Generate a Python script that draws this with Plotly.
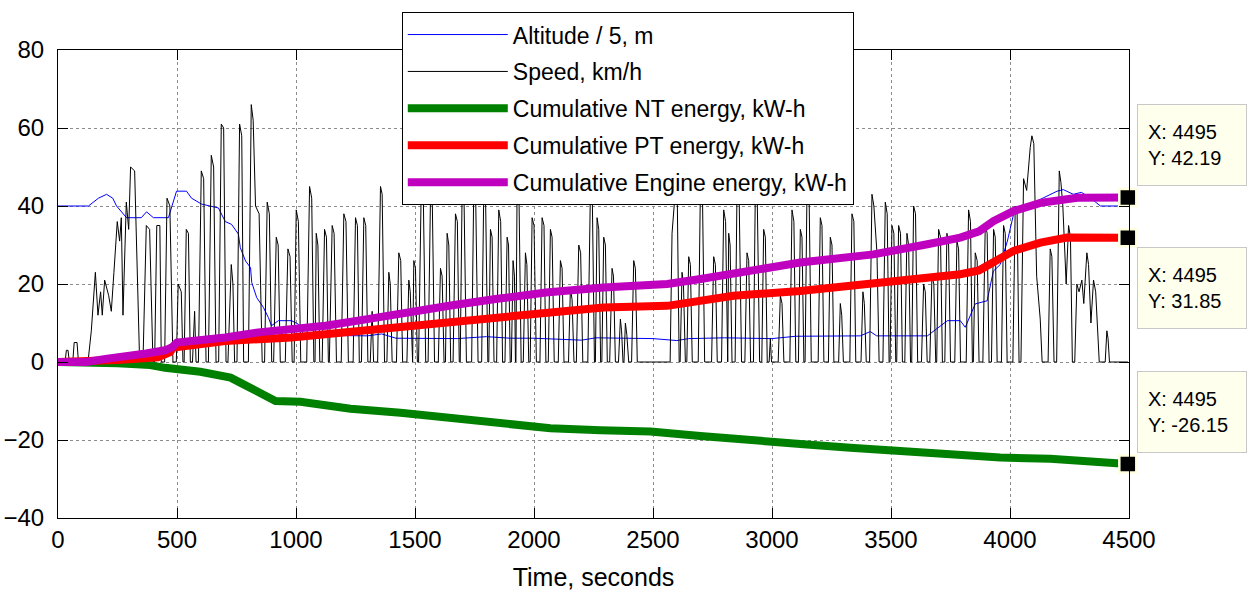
import plotly.graph_objects as go

# ---------------- data ----------------
alt_t = [0, 128, 170, 204, 230, 246, 288, 350, 372, 401, 464, 480, 498, 540, 561, 603, 674, 703, 729, 758,
         766, 788, 809, 814, 835, 863, 884, 897, 926, 981, 1010, 1030, 1150, 1300, 1360, 1420, 1536, 1678,
         1800, 1900, 2000, 2200, 2260, 2350, 2500, 2600, 2650, 2800, 3000, 3100, 3200, 3371, 3413, 3440,
         3653, 3737, 3791, 3812, 3854, 3904, 3930, 3959, 3989, 4015, 4043, 4114, 4198, 4224, 4266, 4300,
         4337, 4380, 4495]
alt_v = [40, 40, 42, 43, 42, 40, 37, 37, 38.5, 37, 37, 40, 43.8, 43.8, 42, 40.5, 39.5, 36, 35.3, 32.8,
         29.3, 25.9, 24.2, 20.4, 16.5, 14, 11.4, 9.3, 10.6, 10.6, 9.7, 7.2, 6.8, 6.7, 7.2, 6.1, 6.1, 6,
         6.5, 6.1, 6.1, 5.6, 6.2, 6.1, 6, 5.5, 6, 6.2, 6, 6.6, 6.6, 6.7, 7.8, 6.7,
         6.7, 10.6, 10.6, 8.9, 14.9, 15.7, 23.3, 25, 31, 37.9, 39.2, 41.3, 43.8, 44.2, 43, 43.5,
         42.1, 40, 40]

speed_t = [0, 30, 35, 42, 48, 62, 68, 80, 86, 126, 140, 157, 168, 179, 186, 196, 213, 224, 235, 249, 259,
           266, 273, 287, 297, 305, 322, 343, 357, 371, 385, 399, 406, 415, 428, 434, 448, 458, 470, 483,
           497, 505, 518, 525, 530, 539, 548, 556, 565, 574, 580, 590, 602, 612, 622, 632, 644, 654, 664,
           675, 686, 696, 706, 714, 728, 735, 742, 752, 763, 772, 780, 800, 812, 820, 830, 845, 858, 868,
           879, 888, 898, 906, 917, 925, 934, 955, 966, 975, 984, 992, 1001, 1010, 1020, 1045, 1057, 1066,
           1075, 1080, 1085, 1092, 1100, 1110, 1120, 1128, 1136, 1140, 1152, 1160, 1170, 1190, 1201, 1210,
           1220, 1240, 1250, 1258, 1266, 1275, 1285, 1293, 1302, 1312, 1320, 1326, 1343, 1355, 1362, 1372,
           1382, 1390, 1396, 1404, 1422, 1432, 1440, 1448, 1466, 1474, 1480, 1487, 1490, 1495, 1502, 1510,
           1515, 1526, 1535, 1545, 1555, 1565, 1573, 1582, 1598, 1607, 1614, 1622, 1628, 1635, 1642, 1650,
           1660, 1670, 1678, 1686, 1690, 1698, 1706, 1716, 1738, 1747, 1755, 1765, 1780, 1789, 1797, 1806,
           1810, 1817, 1824, 1832, 1843, 1852, 1860, 1868, 1878, 1887, 1893, 1900, 1905, 1912, 1918, 1922,
           1924, 1929, 1937, 1946, 1955, 1964, 1970, 1978, 1984, 1992, 2000, 2010, 2025, 2034, 2042, 2050,
           2060, 2069, 2076, 2085, 2102, 2111, 2118, 2126, 2145, 2153, 2160, 2168, 2178, 2188, 2196, 2205,
           2226, 2237, 2245, 2254, 2258, 2265, 2272, 2280, 2285, 2293, 2300, 2308, 2318, 2328, 2334, 2342,
           2355, 2363, 2368, 2374, 2378, 2384, 2390, 2398, 2410, 2419, 2426, 2434, 2572, 2580, 2594, 2602,
           2610, 2614, 2622, 2628, 2636, 2642, 2650, 2657, 2665, 2690, 2699, 2708, 2717, 2746, 2755, 2762,
           2770, 2788, 2797, 2805, 2812, 2814, 2818, 2824, 2832, 2845, 2853, 2862, 2872, 2886, 2895, 2902,
           2910, 2922, 2930, 2938, 2948, 2957, 2965, 2972, 2980, 2988, 2993, 2998, 3026, 3035, 3042, 3050,
           3075, 3084, 3092, 3100, 3111, 3119, 3126, 3134, 3139, 3147, 3156, 3165, 3194, 3203, 3210, 3218,
           3237, 3245, 3252, 3260, 3280, 3287, 3293, 3300, 3327, 3336, 3344, 3352, 3374, 3382, 3388, 3396,
           3410, 3420, 3428, 3441, 3450, 3466, 3476, 3484, 3492, 3496, 3504, 3512, 3520, 3524, 3532, 3540,
           3548, 3558, 3567, 3574, 3582, 3587, 3595, 3603, 3612, 3628, 3637, 3644, 3652, 3663, 3672, 3680,
           3688, 3692, 3700, 3708, 3716, 3726, 3735, 3742, 3750, 3768, 3777, 3784, 3792, 3816, 3826, 3834,
           3842, 3846, 3854, 3862, 3870, 3886, 3896, 3904, 3912, 3922, 3931, 3938, 3946, 3964, 3973, 3980,
           3988, 4012, 4022, 4030, 4038, 4046, 4057, 4070, 4085, 4092, 4100, 4112, 4127, 4135, 4160, 4169,
           4176, 4185, 4196, 4207, 4214, 4222, 4236, 4246, 4254, 4262, 4272, 4281, 4290, 4302, 4310, 4323,
           4330, 4340, 4351, 4360, 4375, 4400, 4407, 4412, 4418, 4495]
speed_v = [0, 0, 3, 3, 0, 0, 5, 5, 0, 0, 8, 23, 12, 18, 12, 21, 17, 13, 23, 36, 31,
           37, 12, 41, 34, 50, 49, 0, 0, 35, 34, 0, 0, 35, 35, 0, 0, 42, 40, 0,
           0, 20, 18, 0, 0, 34, 33, 0, 0, 13, 0, 0, 49, 47, 0, 0, 53, 50, 0,
           0, 61, 60, 0, 0, 25, 20, 0, 0, 61, 58, 0, 0, 66, 62, 40, 38, 0, 0,
           41, 38, 0, 0, 32, 30, 0, 0, 29, 27, 0, 0, 39, 36, 0, 0, 45, 42,
           0, 0, 33, 30, 0, 0, 34, 32, 0, 0, 35, 33, 0, 0, 38, 36,
           0, 0, 37, 35, 0, 0, 37, 35, 0, 0, 13, 0, 0, 45, 43, 0,
           0, 23, 20, 0, 0, 28, 26, 0, 0, 21, 18, 0, 0, 26, 24, 0,
           0, 44, 42, 0, 0, 42, 40, 0, 0, 24, 22, 0, 0, 33, 30, 0,
           0, 38, 36, 0, 0, 44, 42, 0, 0, 45, 42, 0, 0, 44, 40, 0,
           0, 34, 32, 0, 0, 39, 36, 0, 0, 32, 30, 0, 0, 26, 22, 0,
           0, 45, 42, 0, 0, 28, 25, 0, 0, 37, 35, 0, 0, 37, 35, 0,
           0, 34, 32, 0, 0, 26, 24, 0, 0, 19, 16, 0, 0, 30, 28, 0,
           0, 44, 42, 0, 0, 37, 34, 0, 0, 32, 30, 0, 0, 24, 22, 0,
           0, 11, 8, 0, 0, 10, 7, 0, 0, 26, 24, 0, 0, 33, 44, 42,
           0, 0, 23, 20, 0, 0, 27, 25, 0, 0, 44, 42, 0, 0, 27, 25,
           0, 0, 39, 36, 0, 0, 33, 30, 0, 0, 44, 42, 0, 0, 28, 26,
           0, 0, 44, 42, 0, 0, 34, 32, 0, 0, 6, 0, 0, 17, 15, 0,
           0, 39, 36, 0, 0, 34, 32, 0, 0, 44, 42, 0, 0, 37, 35, 0,
           0, 32, 30, 0, 0, 15, 12, 0, 0, 38, 36, 0, 0, 18, 15, 0,
           0, 43, 40, 28, 0, 0, 41, 38, 0, 0, 35, 33, 0, 0, 35, 33,
           0, 0, 33, 30, 0, 0, 40, 38, 0, 0, 20, 18, 0, 0, 22, 20,
           0, 0, 34, 32, 0, 0, 33, 30, 0, 0, 31, 29, 0, 0, 39, 36,
           0, 0, 28, 26, 0, 0, 35, 33, 0, 0, 34, 32, 0, 0, 35, 33,
           0, 0, 40, 38, 0, 0, 47, 44, 55, 58, 56, 22, 11, 0, 0, 29,
           27, 0, 0, 49, 46, 40, 20, 35, 32, 0, 0, 20, 18, 21, 15, 28,
           25, 10, 21, 18, 0, 0, 8, 6, 0, 0]

nt_t = [0, 120, 250, 388, 450, 598, 700, 725, 788, 850, 914, 1019, 1229, 1439, 1649, 1859, 2069, 2279,
        2489, 2699, 2909, 3119, 3329, 3539, 3749, 3959, 4169, 4380, 4495]
nt_v = [0, 0, -0.3, -0.8, -1.5, -2.5, -3.5, -4, -6, -8, -10, -10.2, -12, -13, -14.5, -16, -17, -17.5,
        -17.8, -19, -19.8, -21, -22, -23, -24, -24.5, -24.8, -25.8, -26.15]

pt_t = [0, 120, 250, 420, 470, 485, 600, 703, 981, 1149, 1300, 1494, 1650, 1846, 2050, 2292, 2560, 2700,
        2838, 3119, 3300, 3426, 3653, 3791, 3870, 3930, 4015, 4128, 4240, 4495]
pt_v = [0, 0, 0.5, 1.2, 2.5, 3.7, 4.8, 5.4, 6.3, 7.3, 8.3, 9.7, 10.5, 11.4, 12.6, 14, 14.4, 15.7,
        17, 18.2, 19.3, 20.1, 21.6, 22.5, 23.5, 25.5, 28.5, 30.6, 31.9, 31.85]

eng_t = [0, 120, 200, 260, 300, 370, 450, 480, 500, 600, 703, 842, 981, 1124, 1300, 1494, 1650, 1846,
         2050, 2292, 2560, 2700, 2838, 3000, 3119, 3280, 3426, 3653, 3791, 3870, 3930, 4015, 4128, 4283, 4495]
eng_v = [0, 0, 0.8, 1.2, 1.5, 2.2, 3, 3.8, 5, 5.6, 6.3, 7.6, 8.5, 9.3, 11, 13.1, 14.5, 16.2,
         17.8, 19.1, 20, 21.3, 22.9, 24.3, 25.5, 26.5, 27.6, 30.2, 31.9, 33.5, 36.1, 38.7, 40.8, 42.1, 42.19]

tip_x = [4495, 4495, 4495]
tip_y = [42.19, 31.85, -26.15]

x_ticks = [0, 500, 1000, 1500, 2000, 2500, 3000, 3500, 4000, 4500]
y_ticks = [-40, -20, 0, 20, 40, 60, 80]

names = ["Altitude / 5, m", "Speed, km/h", "Cumulative NT energy, kW-h",
         "Cumulative PT energy, kW-h", "Cumulative Engine energy, kW-h"]

FONT = "Liberation Sans, Arial, Helvetica, sans-serif"

fig = go.Figure()
fig.add_trace(go.Scatter(x=alt_t, y=alt_v, mode="lines", name=names[0],
                         line=dict(color="#0000FF", width=1), legendgroup="a"))
fig.add_trace(go.Scatter(x=speed_t, y=speed_v, mode="lines", name=names[1],
                         line=dict(color="#000000", width=1), legendgroup="b"))
fig.add_trace(go.Scatter(x=nt_t, y=nt_v, mode="lines", name=names[2],
                         line=dict(color="#008000", width=8), legendgroup="c"))
fig.add_trace(go.Scatter(x=pt_t, y=pt_v, mode="lines", name=names[3],
                         line=dict(color="#FF0000", width=8), legendgroup="d"))
fig.add_trace(go.Scatter(x=eng_t, y=eng_v, mode="lines", name=names[4],
                         line=dict(color="#BF00BF", width=8), legendgroup="e"))
fig.add_trace(go.Scatter(x=tip_x, y=tip_y, mode="markers", showlegend=False, cliponaxis=False,
                         marker=dict(symbol="square", size=17, color="black",
                                     line=dict(color="#FFFFE0", width=2.5))))

# data tips
tip_box_y = [55.7, 18.9, -12.7]
for yb, yv in zip(tip_box_y, tip_y):
    fig.add_annotation(xref="paper", yref="y", x=1.0075, y=yb, xanchor="left", yanchor="middle",
                       text=f"X: {tip_x[0]}<br>Y: {yv:.2f}", showarrow=False, align="left",
                       width=88, height=60, borderpad=10,
                       bgcolor="#FFFFEE", bordercolor="#C8C8C8", borderwidth=1,
                       font=dict(family=FONT, size=20, color="black"))

axis_common = dict(showline=True, linecolor="black", linewidth=1, mirror="allticks",
                   ticks="inside", ticklen=10, tickcolor="black", automargin=False,
                   showgrid=True, gridcolor="#8C8C8C", griddash="dot", gridwidth=1,
                   zeroline=False, tickfont=dict(family=FONT, size=24, color="black"))

fig.update_layout(
    width=1252, height=593,
    margin=dict(l=58, r=123, t=48, b=75),
    paper_bgcolor="white", plot_bgcolor="white",
    xaxis=dict(range=[0, 4500], tickvals=x_ticks, **axis_common,
               title=dict(text="Time, seconds", font=dict(family=FONT, size=25, color="black"),
                          standoff=16)),
    yaxis=dict(range=[-40, 80], tickvals=y_ticks, ticklabelstandoff=8, **axis_common),
    legend=dict(x=0.321, y=1.081, xanchor="left", yanchor="top",
                bgcolor="white", bordercolor="black", borderwidth=1,
                font=dict(family=FONT, size=23, color="black"),
                itemwidth=100, traceorder="grouped", tracegroupgap=4),
    showlegend=True,
)

fig.write_html("out.html")
